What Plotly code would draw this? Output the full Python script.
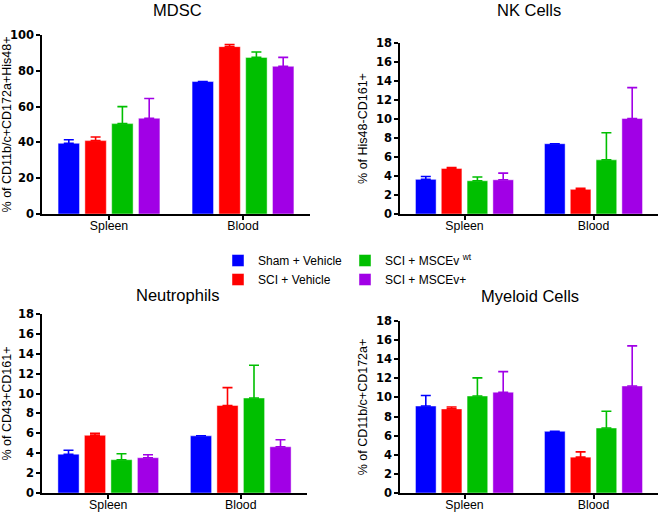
import plotly.graph_objects as go

categories = ["Spleen", "Blood"]
groups = ["Sham + Vehicle", "SCI + Vehicle", "SCI + MSCEv <sup>wt</sup>", "SCI + MSCEv+"]
colors = ["#0000FF", "#FF0000", "#00BF00", "#A100E6"]

panel_titles = ["MDSC", "NK Cells", "Neutrophils", "Myeloid Cells"]
y_titles = ["% of CD11b/c+CD172a+His48+", "% of His48-CD161+",
            "% of CD43+CD161+", "% of CD11b/c+CD172a+"]

# means per group: [Spleen, Blood]
mdsc_means = [[39.5, 74.0], [41.0, 93.5], [50.5, 87.5], [53.5, 82.5]]
mdsc_errs = [[2.0, 0], [2.0, 1.2], [9.5, 3.0], [11.0, 5.0]]

nk_means = [[3.65, 7.4], [4.8, 2.6], [3.5, 5.7], [3.6, 10.05]]
nk_errs = [[0.3, 0], [0.1, 0.1], [0.4, 2.85], [0.7, 3.25]]

neut_means = [[3.9, 5.75], [5.8, 8.8], [3.35, 9.55], [3.55, 4.65]]
neut_errs = [[0.4, 0], [0.2, 1.8], [0.6, 3.3], [0.3, 0.7]]

myel_means = [[9.1, 6.45], [8.8, 3.75], [10.15, 6.8], [10.55, 11.2]]
myel_errs = [[1.1, 0], [0.2, 0.55], [1.9, 1.75], [2.15, 4.2]]

panels = [(mdsc_means, mdsc_errs), (nk_means, nk_errs),
          (neut_means, neut_errs), (myel_means, myel_errs)]
y_ranges = [[0, 100], [0, 18], [0, 18], [0, 18]]
y_dticks = [20, 2, 2, 2]

W, H = 660, 513
# pixel boxes: (x0, x1, ytop, ybottom)
boxes = [(42, 310, 35, 214), (400, 658, 43, 214),
         (42, 307, 314, 493), (400, 658, 321, 493)]
title_pos = [(177, 10), (529, 10), (177, 295), (530, 296)]

TICKFONT = dict(family="DejaVu Sans", size=11.5, color="black", weight="bold")
FONT = "Liberation Sans, Arial, sans-serif"

fig = go.Figure()
for p, (means, errs) in enumerate(panels):
    xa = "x" if p == 0 else f"x{p+1}"
    ya = "y" if p == 0 else f"y{p+1}"
    for g in range(4):
        fig.add_trace(go.Bar(
            x=categories, y=means[g], name=groups[g],
            marker=dict(color=colors[g], line=dict(color="rgba(255,255,255,0.45)", width=1)),
            error_y=dict(type="data", array=errs[g], arrayminus=[0, 0], symmetric=False,
                         color=colors[g], thickness=1.6, width=5),
            xaxis=xa, yaxis=ya,
            showlegend=(p == 0),
            legend="legend" if g < 2 else "legend2",
        ))

layout = dict(
    width=W, height=H, margin=dict(l=0, r=0, t=0, b=0, autoexpand=False),
    autosize=False,
    paper_bgcolor="white", plot_bgcolor="white",
    barmode="group", bargap=0.2, bargroupgap=0.2,
    font=dict(family=FONT, size=12, color="black"),
    legend=dict(x=218 / W, y=1 - 246 / H, xanchor="left", yanchor="top",
                font=dict(family=FONT, size=12), bgcolor="rgba(0,0,0,0)",
                tracegroupgap=0, itemclick=False),
    legend2=dict(x=345 / W, y=1 - 246 / H, xanchor="left", yanchor="top",
                 font=dict(family=FONT, size=12), bgcolor="rgba(0,0,0,0)",
                 tracegroupgap=0, itemclick=False),
)
annotations = []
for p in range(4):
    x0, x1, yt, yb = boxes[p]
    xk = "xaxis" if p == 0 else f"xaxis{p+1}"
    yk = "yaxis" if p == 0 else f"yaxis{p+1}"
    ya = "y" if p == 0 else f"y{p+1}"
    xa = "x" if p == 0 else f"x{p+1}"
    layout[xk] = dict(domain=[x0 / W, x1 / W], anchor=ya, showline=True, linecolor="black",
                      linewidth=1.5, ticks="outside", ticklen=4, tickwidth=1.5,
                      tickcolor="black", showgrid=False, zeroline=False,
                      tickfont=dict(family=FONT, size=12.3, color="black"),
                      ticklabelstandoff=-5,
                      range=[-0.5, 1.5], fixedrange=True)
    layout[yk] = dict(domain=[1 - yb / H, 1 - yt / H], anchor=xa, showline=True, linecolor="black",
                      linewidth=1.5, ticks="outside", ticklen=4, tickwidth=1.5,
                      tickcolor="black", showgrid=False, zeroline=False,
                      range=y_ranges[p], dtick=y_dticks[p], tick0=0,
                      tickfont=TICKFONT,
                      title=dict(text=y_titles[p], font=dict(family=FONT, size=12.5), standoff=6),
                      fixedrange=True)
    tx, ty = title_pos[p]
    annotations.append(dict(text=panel_titles[p], x=tx / W, y=1 - ty / H, xref="paper", yref="paper",
                            xanchor="center", yanchor="middle", showarrow=False,
                            font=dict(family=FONT, size=16.5, color="black")))
layout["annotations"] = annotations
fig.update_layout(**layout)
fig.write_html("out.html", config={"responsive": False, "displayModeBar": False},
               post_script="document.body.style.margin='0';document.body.style.padding='0';"
                           "document.documentElement.style.overflow='hidden';")
